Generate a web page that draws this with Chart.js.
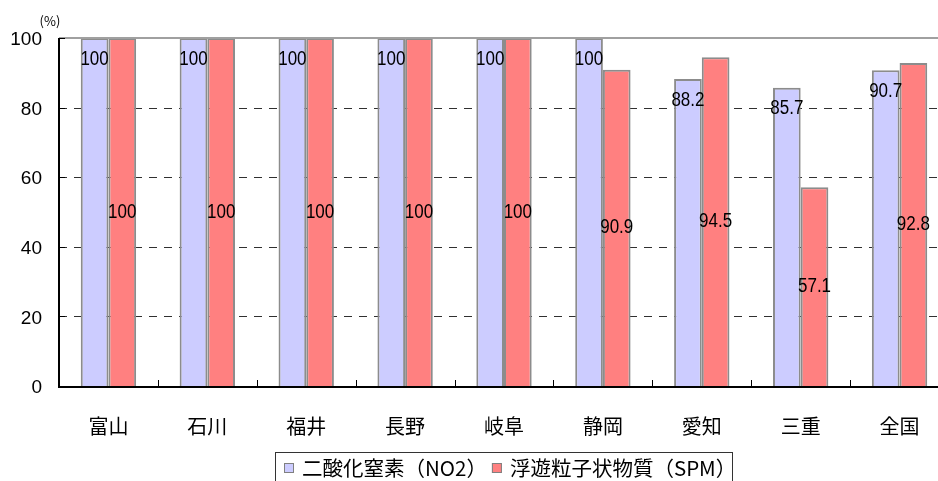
<!DOCTYPE html>
<html><head><meta charset="utf-8">
<script src="https://cdn.jsdelivr.net/npm/chart.js@4/dist/chart.umd.min.js"></script>
<style>
html,body{margin:0;padding:0;background:#fff;overflow:hidden;width:938px;height:481px}
#wrap{position:relative;width:950px;height:481px}
canvas{display:block}
</style></head><body>
<div id="wrap"><canvas id="c" width="950" height="481"></canvas></div>
<script>
const categories = ['富山','石川','福井','長野','岐阜','静岡','愛知','三重','全国'];
const no2Values = [100,100,100,100,100,100,88.2,85.7,90.7];
const spmValues = [100,100,100,100,100,90.9,94.5,57.1,92.8];
const seriesNames = ['二酸化窒素（NO2）','浮遊粒子状物質（SPM）'];
const seriesColors = ['#CCCCFF','#FF8080'];
const yTicks = [0,20,40,60,80,100];
const unitLabel = '(%)';

const CJK = "'Noto Sans CJK JP', sans-serif";
const NUM = "'Liberation Sans', Arial, sans-serif";

const deco = {
  id: 'deco',
  beforeDatasetsDraw(chart) {
    const ctx = chart.ctx, y = chart.scales.y, a = chart.chartArea;
    ctx.save();
    yTicks.forEach(v => {
      if (v === 0 || v === 100) return;
      const py = Math.round(y.getPixelForValue(v)) + 0.5;
      ctx.strokeStyle = '#303030'; ctx.lineWidth = 1; ctx.setLineDash([8, 7]);
      ctx.beginPath(); ctx.moveTo(a.left, py); ctx.lineTo(a.right, py); ctx.stroke();
    });
    ctx.restore();
  },
  afterDatasetsDraw(chart) {
    const ctx = chart.ctx, x = chart.scales.x, y = chart.scales.y, a = chart.chartArea;
    ctx.save();
    const pTop = Math.round(y.getPixelForValue(100));
    ctx.strokeStyle = '#a0a0a0'; ctx.lineWidth = 2;
    ctx.beginPath(); ctx.moveTo(a.left, pTop); ctx.lineTo(a.right, pTop); ctx.stroke();
    ctx.strokeStyle = '#000'; ctx.lineWidth = 2;
    ctx.beginPath(); ctx.moveTo(a.left, a.top); ctx.lineTo(a.left, a.bottom + 1); ctx.lineTo(a.right, a.bottom + 1); ctx.stroke();
    ctx.lineWidth = 1;
    yTicks.forEach(v => {
      if (v === 0) return;
      const py = Math.round(y.getPixelForValue(v)) + 0.5;
      ctx.beginPath(); ctx.moveTo(a.left, py); ctx.lineTo(a.left + 6, py); ctx.stroke();
    });
    const w = x.getPixelForValue(1) - x.getPixelForValue(0);
    for (let i = 1; i < categories.length; i++) {
      const px = Math.round(x.getPixelForValue(i) - w / 2) + 0.5;
      ctx.beginPath(); ctx.moveTo(px, a.bottom); ctx.lineTo(px, a.bottom - 6); ctx.stroke();
    }
    ctx.fillStyle = '#000';
    ctx.font = "20px " + NUM;
    ctx.textAlign = 'center'; ctx.textBaseline = 'middle';
    chart.data.datasets.forEach((ds, di) => {
      const meta = chart.getDatasetMeta(di);
      meta.data.forEach((bar, i) => {
        const v = ds.data[i];
        const ty = di === 0 ? bar.y + 21 : (bar.y + bar.base) / 2;
        ctx.save();
        ctx.translate(bar.x, ty);
        ctx.scale(0.85, 1);
        ctx.fillText(String(v), 0, 0);
        ctx.restore();
      });
    });
    ctx.font = "13px " + CJK;
    ctx.fillText(unitLabel, 50, 21);
    ctx.restore();
  },
  afterDraw(chart) {
    const ctx = chart.ctx;
    ctx.save();
    ctx.strokeStyle = '#333'; ctx.lineWidth = 1;
    ctx.strokeRect(275.5, 452.5, 457, 40);
    ctx.font = "20.5px " + CJK;
    ctx.textBaseline = 'middle'; ctx.textAlign = 'left';
    let lx = 284;
    const ly = 468;
    chart.data.datasets.forEach((ds, di) => {
      ctx.fillStyle = ds.backgroundColor;
      ctx.fillRect(lx, ly - 5, 10, 10);
      ctx.strokeStyle = '#808080';
      ctx.strokeRect(lx + 0.5, ly - 4.5, 9, 9);
      ctx.fillStyle = '#000';
      ctx.fillText(ds.label, lx + 18, ly);
      lx = lx + 18 + ctx.measureText(ds.label).width + 5;
    });
    ctx.restore();
  }
};

new Chart(document.getElementById('c'), {
  type: 'bar',
  data: {
    labels: categories,
    datasets: [
      { label: seriesNames[0], data: no2Values, backgroundColor: seriesColors[0], borderColor: '#8c8c8c', borderWidth: 2 },
      { label: seriesNames[1], data: spmValues, backgroundColor: seriesColors[1], borderColor: '#8c8c8c', borderWidth: 2 }
    ]
  },
  options: {
    responsive: false,
    animation: false,
    devicePixelRatio: 1,
    layout: { padding: { top: 38, left: 0, right: 1, bottom: 0 } },
    datasets: { bar: { categoryPercentage: 0.56, barPercentage: 1.0 } },
    plugins: { legend: { display: false }, tooltip: { enabled: false } },
    scales: {
      x: {
        grid: { display: false },
        border: { display: false },
        ticks: { color: '#000', font: { family: CJK, size: 20 }, padding: 20, maxRotation: 0 },
        afterFit(s) { s.height = 95; }
      },
      y: {
        min: 0, max: 100,
        grid: { display: false, drawTicks: false },
        border: { display: false },
        ticks: { color: '#000', font: { family: NUM, size: 19 }, padding: 17, labelOffset: 2 },
        afterBuildTicks(s) { s.ticks = yTicks.map(v => ({ value: v })); },
        afterFit(s) { s.width = 59; }
      }
    }
  },
  plugins: [deco]
});
</script>
</body></html>
